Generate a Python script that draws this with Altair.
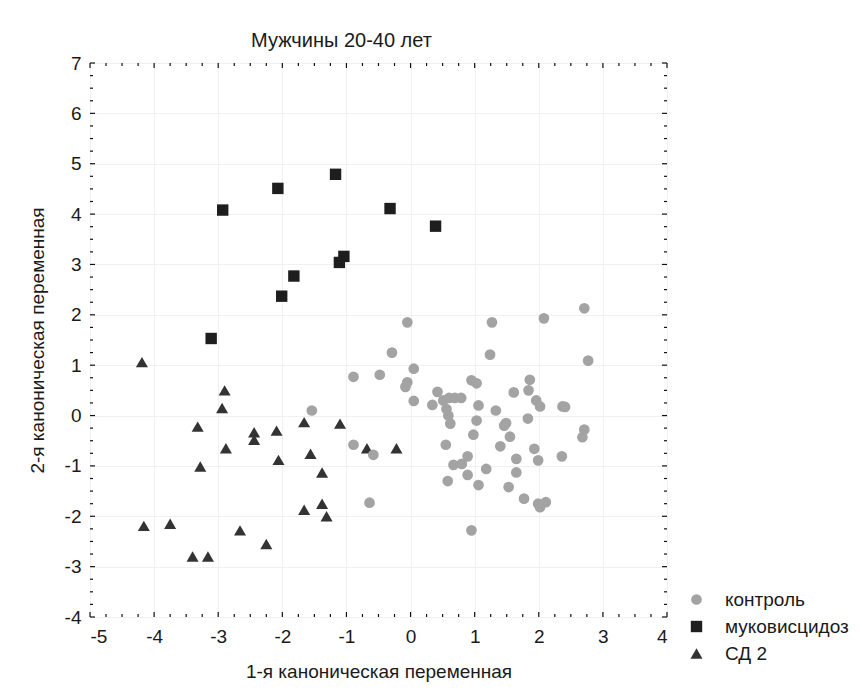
import altair as alt
import pandas as pd
import numpy as np

# ---- data ----
control_x = [-0.05, -0.29, -0.89, -0.48, 0.05, -0.05, -0.08, 0.05, -1.54, -0.89,
             -0.58, -0.64, 0.42, 0.34, 0.51, 0.60, 0.69, 0.79, 0.56, 0.59,
             0.62, 0.95, 1.03, 1.06, 1.03, 0.98, 0.55, 0.67, 0.80, 0.89,
             0.89, 0.58, 1.06, 0.95, 1.27, 2.08, 2.71, 1.24, 2.77, 1.86,
             1.84, 1.61, 1.33, 1.96, 2.02, 2.37, 2.41, 1.49, 1.46, 1.83,
             1.55, 2.71, 2.68, 1.40, 1.93, 1.18, 1.65, 1.65, 1.99, 2.36,
             1.53, 1.77, 1.99, 2.11, 2.02]
control_y = [1.85, 1.25, 0.77, 0.81, 0.93, 0.66, 0.57, 0.29, 0.10, -0.58,
             -0.78, -1.73, 0.47, 0.21, 0.30, 0.35, 0.35, 0.35, 0.13, 0.00,
             -0.16, 0.70, 0.64, 0.20, -0.10, -0.38, -0.58, -0.98, -0.96, -0.81,
             -1.18, -1.30, -1.38, -2.28, 1.85, 1.93, 2.13, 1.21, 1.09, 0.71,
             0.50, 0.46, 0.10, 0.30, 0.18, 0.18, 0.17, -0.15, -0.20, -0.06,
             -0.42, -0.28, -0.43, -0.61, -0.66, -1.06, -0.86, -1.13, -0.89, -0.81,
             -1.42, -1.65, -1.75, -1.72, -1.82]

cf_x = [-2.93, -2.07, -1.17, -0.32, 0.39, -1.04, -1.11, -1.82, -2.01, -3.11]
cf_y = [4.08, 4.51, 4.79, 4.11, 3.76, 3.16, 3.04, 2.77, 2.37, 1.53]

dm_x = [-4.19, -2.90, -2.94, -3.32, -2.44, -2.44, -2.09, -1.66, -1.10, -2.88,
        -0.68, -0.22, -1.56, -2.06, -3.28, -1.38, -1.38, -1.66, -1.31, -4.16,
        -3.75, -2.66, -2.25, -3.40, -3.16]
dm_y = [1.06, 0.50, 0.15, -0.22, -0.33, -0.48, -0.30, -0.13, -0.16, -0.65,
        -0.65, -0.65, -0.76, -0.88, -1.01, -1.13, -1.75, -1.87, -2.00, -2.19,
        -2.15, -2.28, -2.55, -2.80, -2.80]

groups = ["контроль", "муковисцидоз", "СД 2"]
x_major = list(range(-5, 5))
y_major = list(range(-4, 8))

title_text = "Мужчины 20-40 лет"
x_title = "1-я каноническая переменная"
y_title = "2-я каноническая переменная"

FONT = "Liberation Sans, Arial, sans-serif"
W, H = 577, 554

df = pd.concat([
    pd.DataFrame({"x": dm_x, "y": dm_y, "group": groups[2]}),
    pd.DataFrame({"x": control_x, "y": control_y, "group": groups[0]}),
    pd.DataFrame({"x": cf_x, "y": cf_y, "group": groups[1]}),
], ignore_index=True)

xs = alt.Scale(domain=[-5, 4], nice=False, zero=False)
ys = alt.Scale(domain=[-4, 7], nice=False, zero=False)

x_axis = alt.Axis(values=x_major, ticks=False, domain=False, grid=True,
                  gridColor="#f0f0f0", labelPadding=10, titlePadding=16,
                  labelExpr="datum.value + ''",
                  labelFontSize=19, titleFontSize=19, labelFont=FONT,
                  titleFont=FONT, titleFontWeight="normal",
                  labelColor="#1a1a1a", titleColor="#1a1a1a")
y_axis = alt.Axis(values=y_major, ticks=False, domain=False, grid=True,
                  gridColor="#f0f0f0", labelPadding=9, titlePadding=17,
                  labelExpr="datum.value + ''",
                  labelFontSize=19, titleFontSize=19, labelFont=FONT,
                  titleFont=FONT, titleFontWeight="normal",
                  labelColor="#1a1a1a", titleColor="#1a1a1a")

points = alt.Chart(df).mark_point(filled=True, opacity=1, strokeWidth=0).encode(
    x=alt.X("x:Q", scale=xs, title=x_title, axis=x_axis),
    y=alt.Y("y:Q", scale=ys, title=y_title, axis=y_axis),
    color=alt.Color("group:N", scale=alt.Scale(domain=groups,
                    range=["#a3a3a3", "#1e1e1e", "#333333"]),
                    legend=alt.Legend(title=None, orient="none", legendX=597,
                                      legendY=527, symbolSize=70, labelFontSize=19,
                                      labelFont=FONT, labelColor="#1a1a1a",
                                      labelOffset=19, rowPadding=7, labelLimit=400,
                                      symbolStrokeWidth=0)),
    shape=alt.Shape("group:N", scale=alt.Scale(domain=groups,
                    range=["circle", "square", "triangle-up"])),
    size=alt.Size("group:N", scale=alt.Scale(domain=groups, range=[115, 145, 115]),
                  legend=None),
)

# inner tick marks on all four sides
quarter = np.round(np.arange(-5, 4.001, 0.25), 2)
x_minor = pd.DataFrame({"v": [q for q in quarter if q not in x_major]})
x_maj = pd.DataFrame({"v": x_major})
quarter_y = np.round(np.arange(-4, 7.001, 0.25), 2)
y_minor = pd.DataFrame({"v": [q for q in quarter_y if q not in y_major]})
y_maj = pd.DataFrame({"v": y_major})

def xticks(d, L):
    base = alt.Chart(d).mark_rule(color="#111111", strokeWidth=1.2)
    bx = alt.X("v:Q", scale=xs, title=x_title, axis=x_axis)
    return [base.encode(x=bx, y=alt.value(H), y2=alt.value(H - L)),
            base.encode(x=bx, y=alt.value(0), y2=alt.value(L))]

def yticks(d, L):
    base = alt.Chart(d).mark_rule(color="#111111", strokeWidth=1.2)
    by = alt.Y("v:Q", scale=ys, title=y_title, axis=y_axis)
    return [base.encode(y=by, x=alt.value(0), x2=alt.value(L)),
            base.encode(y=by, x=alt.value(W), x2=alt.value(W - L))]

layers = [points] + xticks(x_minor, 3) + xticks(x_maj, 5) + yticks(y_minor, 3) + yticks(y_maj, 5)

chart = alt.layer(*layers).properties(
    width=W, height=H,
    title=alt.TitleParams(title_text, fontSize=20, font=FONT, fontWeight="normal",
                          color="#1a1a1a", anchor="middle", dx=-37, dy=29, offset=16,
                          baseline="alphabetic"),
    autosize=alt.AutoSizeParams(type="none"),
    padding={"left": 82, "top": 55, "right": 187, "bottom": 66},
).configure_view(stroke="#111111", strokeWidth=1.6).configure(background="white")

chart.save("out.html", embed_options={"renderer": "svg", "actions": False})
